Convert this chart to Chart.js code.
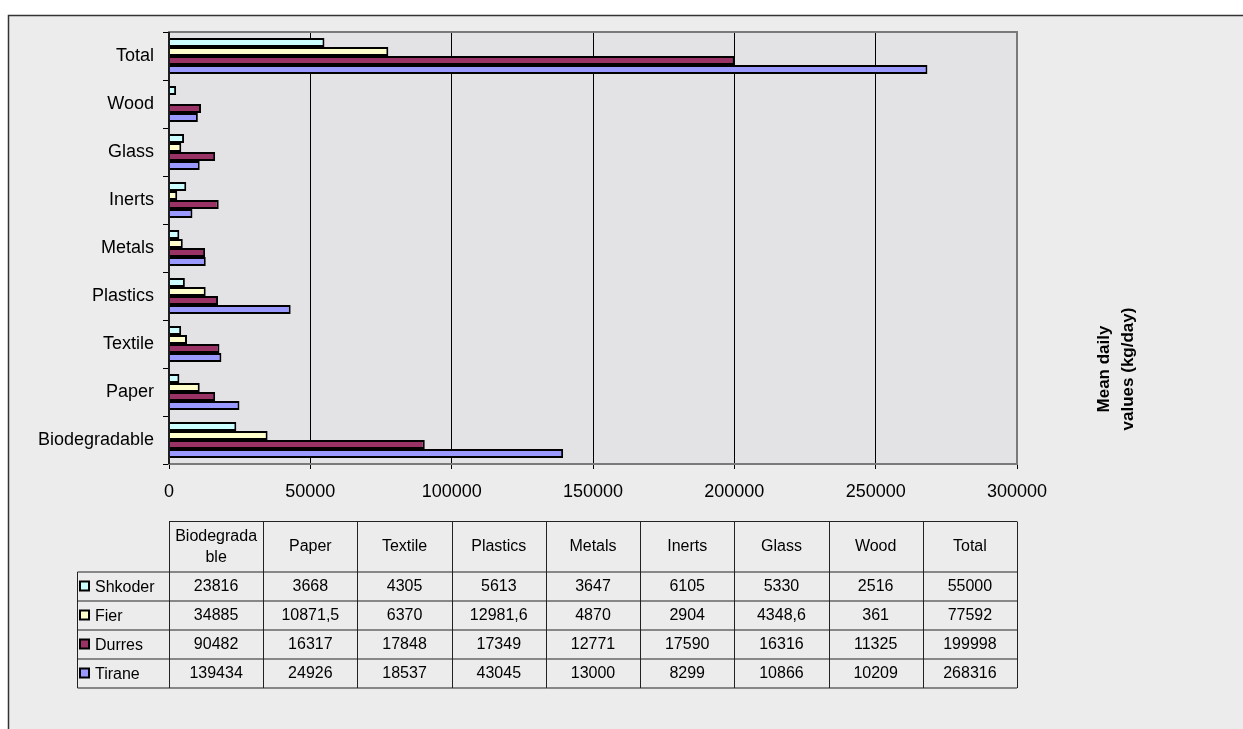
<!DOCTYPE html>
<html><head><meta charset="utf-8">
<script src="https://cdn.jsdelivr.net/npm/chart.js@4/dist/chart.umd.min.js"></script>
<style>html,body{margin:0;padding:0;background:#fff;overflow:hidden}</style>
</head><body>
<canvas id="c" width="1243" height="729"></canvas>
<script>
const categories = ['Biodegradable','Paper','Textile','Plastics','Metals','Inerts','Glass','Wood','Total'];
const headerLabels = [['Biodegrada','ble'],['Paper'],['Textile'],['Plastics'],['Metals'],['Inerts'],['Glass'],['Wood'],['Total']];
const seriesNames = ['Shkoder','Fier','Durres','Tirane'];
const shkoder = [23816, 3668, 4305, 5613, 3647, 6105, 5330, 2516, 55000];
const fier    = [34885, 10871.5, 6370, 12981.6, 4870, 2904, 4348.6, 361, 77592];
const durres  = [90482, 16317, 17848, 17349, 12771, 17590, 16316, 11325, 199998];
const tirane  = [139434, 24926, 18537, 43045, 13000, 8299, 10866, 10209, 268316];
const xTicks  = [0, 50000, 100000, 150000, 200000, 250000, 300000];
const axisTitle = ['Mean daily', 'values (kg/day)'];

const seriesValues = [shkoder, fier, durres, tirane];
const colors = ['#CCFFFF', '#FFFFCC', '#993366', '#9999FF'];
const FONT = '"Liberation Sans", Arial, sans-serif';

// chart shows categories top-to-bottom from Total to Biodegradable
const chartLabels = categories.slice().reverse();

const bgPlugin = {
  id: 'bg',
  beforeDraw(chart) {
    const ctx = chart.ctx, a = chart.chartArea;
    ctx.save();
    ctx.fillStyle = '#ffffff';
    ctx.fillRect(0, 0, chart.width, chart.height);
    ctx.fillStyle = '#ececec';
    ctx.fillRect(8, 15, chart.width - 8, chart.height - 15);
    ctx.strokeStyle = '#333';
    ctx.lineWidth = 1.5;
    ctx.beginPath();
    ctx.moveTo(8.5, chart.height);
    ctx.lineTo(8.5, 15.5);
    ctx.lineTo(chart.width, 15.5);
    ctx.stroke();
    ctx.fillStyle = '#e3e3e5';
    ctx.fillRect(a.left, a.top, a.right - a.left, a.bottom - a.top);
    ctx.restore();
  },
  afterDraw(chart) {
    const ctx = chart.ctx, a = chart.chartArea;
    ctx.save();
    // plot border
    ctx.strokeStyle = '#7a7a7a';
    ctx.lineWidth = 2;
    ctx.strokeRect(a.left, a.top, a.right - a.left, a.bottom - a.top);
    ctx.strokeStyle = '#000';
    ctx.lineWidth = 1.5;
    ctx.beginPath();
    ctx.moveTo(a.left, a.top);
    ctx.lineTo(a.left, a.bottom);
    ctx.stroke();

    // axis title (rotated)
    ctx.save();
    ctx.translate(1116, 369);
    ctx.rotate(-Math.PI / 2);
    ctx.fillStyle = '#000';
    ctx.font = 'bold 17px ' + FONT;
    ctx.textAlign = 'center';
    ctx.textBaseline = 'middle';
    ctx.fillText(axisTitle[0], 0, -12);
    ctx.fillText(axisTitle[1], 0, 12);
    ctx.restore();

    // data table
    const n = categories.length;
    const colW = (a.right - a.left) / n;
    const top = 521.5, headH = 50.5, rowH = 29, legL = 77.5;
    const rowsTop = top + headH;
    const bottom = rowsTop + rowH * seriesNames.length;
    ctx.strokeStyle = '#222';
    ctx.lineWidth = 1;
    ctx.beginPath();
    ctx.moveTo(a.left, top); ctx.lineTo(a.right, top);
    for (let r = 0; r <= seriesNames.length; r++) {
      const y = rowsTop + r * rowH;
      ctx.moveTo(legL, y); ctx.lineTo(a.right, y);
    }
    for (let c = 0; c <= n; c++) {
      const x = Math.round(a.left + c * colW) + 0.5;
      ctx.moveTo(x, top); ctx.lineTo(x, bottom);
    }
    ctx.moveTo(legL, rowsTop); ctx.lineTo(legL, bottom);
    ctx.stroke();

    ctx.fillStyle = '#000';
    ctx.font = '16px ' + FONT;
    ctx.textAlign = 'center';
    ctx.textBaseline = 'middle';
    headerLabels.forEach((lines, c) => {
      const cx = a.left + (c + 0.5) * colW;
      const cy = top + headH / 2;
      if (lines.length === 1) ctx.fillText(lines[0], cx, cy);
      else {
        ctx.fillText(lines[0], cx, cy - 10.5);
        ctx.fillText(lines[1], cx, cy + 10.5);
      }
    });
    seriesNames.forEach((name, r) => {
      const cy = rowsTop + (r + 0.5) * rowH;
      ctx.fillStyle = colors[r];
      ctx.fillRect(80, cy - 5, 9, 9);
      ctx.strokeStyle = '#000';
      ctx.lineWidth = 2;
      ctx.strokeRect(80, cy - 5, 9, 9);
      ctx.fillStyle = '#000';
      ctx.textAlign = 'left';
      ctx.fillText(name, 95, cy + 1);
      ctx.textAlign = 'center';
      seriesValues[r].forEach((v, c) => {
        const cx = a.left + (c + 0.5) * colW;
        ctx.fillText(String(v).replace('.', ','), cx, cy);
      });
    });
    ctx.restore();
  }
};

new Chart(document.getElementById('c'), {
  type: 'bar',
  data: {
    labels: chartLabels,
    datasets: seriesNames.map((name, i) => ({
      label: name,
      data: seriesValues[i].slice().reverse(),
      backgroundColor: colors[i],
      borderColor: '#000',
      borderWidth: 2,
      barPercentage: 1,
      categoryPercentage: 0.75
    }))
  },
  options: {
    indexAxis: 'y',
    responsive: false,
    animation: false,
    devicePixelRatio: 1,
    layout: { padding: { left: 0, top: 32, right: 226, bottom: 0 } },
    plugins: { legend: { display: false }, tooltip: { enabled: false } },
    scales: {
      x: {
        min: xTicks[0], max: xTicks[xTicks.length - 1],
        afterBuildTicks(s) { s.ticks = xTicks.map(v => ({ value: v })); },
        ticks: { color: '#000', font: { family: FONT, size: 18 }, padding: 12, maxRotation: 0, autoSkip: false,
                 callback: v => String(v) },
        grid: { color: '#000', lineWidth: 1, tickLength: 5, drawOnChartArea: true },
        border: { display: false },
        afterFit(s) { s.height = 265; }
      },
      y: {
        ticks: { color: '#000', font: { family: FONT, size: 18 }, padding: 9 },
        grid: { offset: true, drawOnChartArea: false, tickLength: 6, color: '#000', lineWidth: 1 },
        border: { display: false },
        afterFit(s) { s.width = 169; }
      }
    }
  },
  plugins: [bgPlugin]
});
</script>
</body></html>
